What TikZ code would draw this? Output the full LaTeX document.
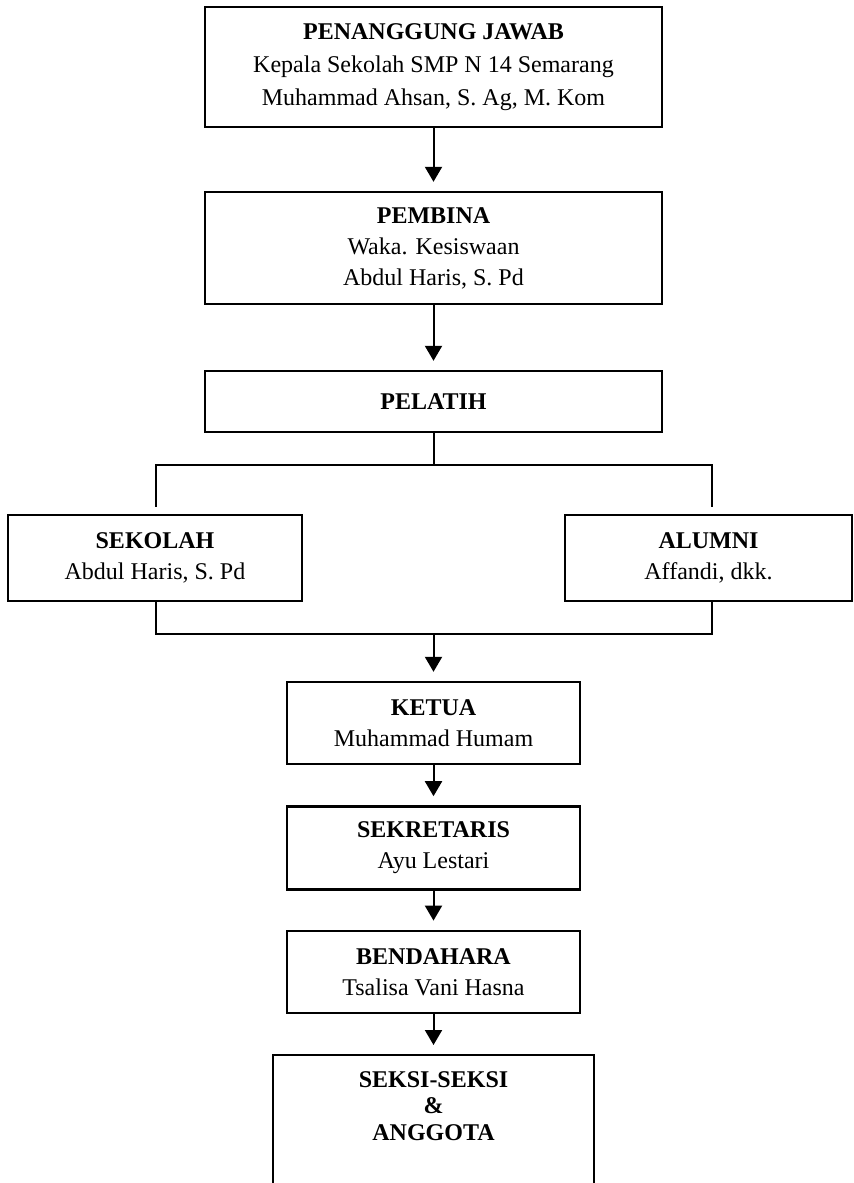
\documentclass[tikz,border=0pt]{standalone}
\usepackage{fontspec}
\setmainfont{Liberation Serif}
\usepackage{tikz}
\usetikzlibrary{positioning}
\usetikzlibrary{arrows.meta}
\tikzset{
  orgbox/.style={rectangle,draw=black,line width=1.2pt,
                 align=center,inner sep=0pt,
                 font=\fontsize{12}{15.5}\selectfont},
  downarrow/.style={-{Triangle[length=7.5pt,width=8.5pt]},
                    line width=1pt,shorten >=4.5pt},
  joinline/.style={line width=1pt},
}
\begin{document}
\begin{tikzpicture}[x=0.5pt,y=-0.5pt]
  \useasboundingbox (0,0) rectangle (853,1183);

  % pimpinan
  \node[orgbox,minimum width=228.5pt,minimum height=60pt,
        font=\fontsize{12}{16.5}\selectfont] (pj) at (433.5,66.7)
      {\textbf{PENANGGUNG JAWAB}\\Kepala Sekolah SMP N 14 Semarang\\Muhammad Ahsan, S. Ag, M. Kom};
  \node[orgbox,minimum width=228.5pt,minimum height=56pt] (pb) at (433.5,248)
      {\textbf{PEMBINA}\\Waka. Kesiswaan\\Abdul Haris, S. Pd};
  \node[orgbox,minimum width=228.5pt,minimum height=30.5pt] (pel) at (433.5,401.5)
      {\textbf{PELATIH}};

  % pelatih sekolah / alumni
  \node[orgbox,minimum width=147pt,minimum height=43pt] (sek) at (155,558)
      {\textbf{SEKOLAH}\\Abdul Haris, S. Pd};
  \node[orgbox,minimum width=143.5pt,minimum height=43pt] (alm) at (708.5,558)
      {\textbf{ALUMNI}\\Affandi, dkk.};

  % pengurus
  \node[orgbox,minimum width=146.5pt,minimum height=41pt] (ket) at (433.5,723)
      {\textbf{KETUA}\\Muhammad Humam};
  \node[orgbox,minimum width=146.5pt,minimum height=41.5pt] (sekr) [below=20pt of ket]
      {\textbf{SEKRETARIS}\\Ayu Lestari};
  \node[orgbox,minimum width=146.5pt,minimum height=41pt] (bend) [below=19.5pt of sekr]
      {\textbf{BENDAHARA}\\Tsalisa Vani Hasna};
  \node[orgbox,minimum width=160.5pt,inner ysep=8pt,text depth=60pt,
        font=\fontsize{12}{13.25}\selectfont\bfseries] (seksi) [below=20pt of bend]
      {SEKSI-SEKSI\\\&\\ANGGOTA};

  \coordinate (jt) at (433.5,465);
  \coordinate (jl) at (156,465);
  \coordinate (jr) at (712,465);
  \coordinate (jb) at (433.5,634);

  \draw[downarrow] (pj.south) -- (pb.north);
  \draw[downarrow] (pb.south) -- (pel.north);

  \draw[joinline] (pel.south) -- (jt);
  \draw[joinline,shorten <=3.5pt,shorten >=3.5pt]
      (sek.north -| jl) -- (jl) -- (jr) -- (alm.north -| jr);
  \draw[joinline]
      (sek.south -| jl) -- (jl |- jb) -- (jr |- jb) -- (alm.south -| jr);

  \draw[downarrow] (jb) -- (ket.north);
  \draw[downarrow] (ket.south) -- (sekr.north);
  \draw[downarrow] (sekr.south) -- (bend.north);
  \draw[downarrow] (bend.south) -- (seksi.north);
\end{tikzpicture}
\end{document}
